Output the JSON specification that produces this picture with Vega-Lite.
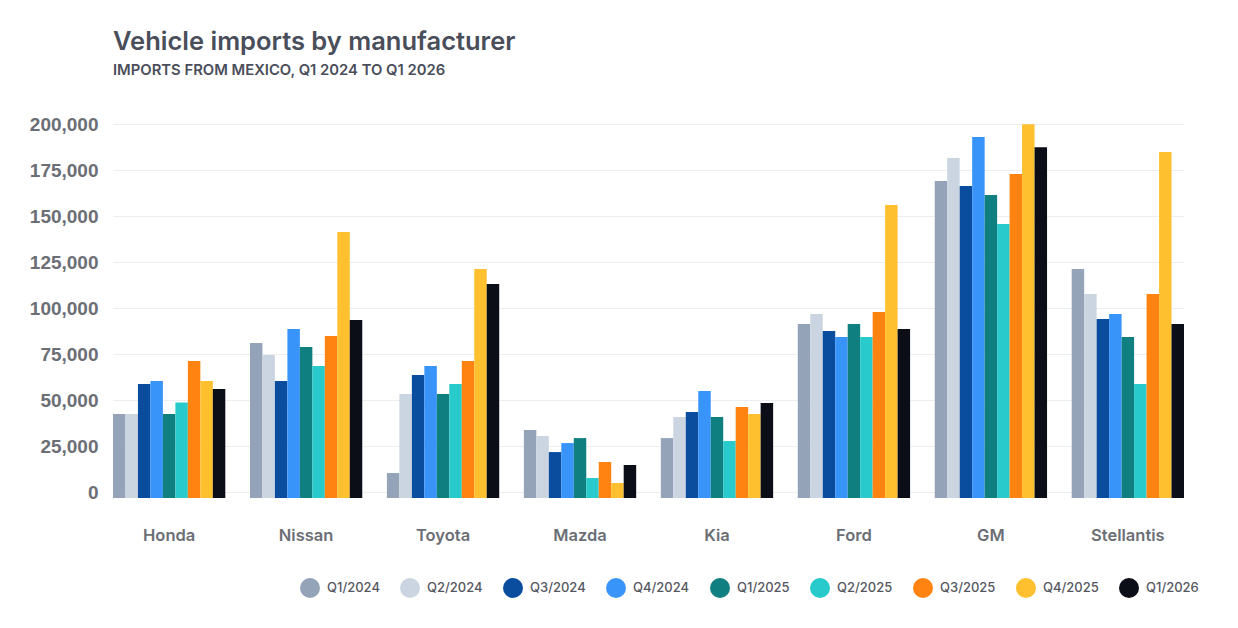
{
  "$schema": "https://vega.github.io/schema/vega-lite/v6.json",
  "description": "Grouped bar chart of vehicle imports from Mexico by manufacturer and quarter.",
  "width": 1071,
  "height": 374,
  "autosize": {"type": "none"},
  "padding": {"left": 113, "top": 124, "right": 54, "bottom": 130},
  "background": "#ffffff",
  "title": {
    "text": "Vehicle imports by manufacturer",
    "subtitle": "IMPORTS FROM MEXICO, Q1 2024 TO Q1 2026",
    "anchor": "start",
    "frame": "group",
    "font": "Inter",
    "fontSize": 25.5,
    "fontWeight": 600,
    "color": "#4a4e5a",
    "subtitleFont": "Inter",
    "subtitleFontSize": 14.8,
    "subtitleFontWeight": 600,
    "subtitleColor": "#4a4e5a",
    "subtitlePadding": 8,
    "offset": 37
  },
  "data": {
    "values": [
      {"maker": "Honda", "quarter": "Q1/2024", "imports": 42400},
      {"maker": "Honda", "quarter": "Q2/2024", "imports": 42400},
      {"maker": "Honda", "quarter": "Q3/2024", "imports": 58700},
      {"maker": "Honda", "quarter": "Q4/2024", "imports": 60300},
      {"maker": "Honda", "quarter": "Q1/2025", "imports": 42400},
      {"maker": "Honda", "quarter": "Q2/2025", "imports": 48700},
      {"maker": "Honda", "quarter": "Q3/2025", "imports": 71200},
      {"maker": "Honda", "quarter": "Q4/2025", "imports": 60300},
      {"maker": "Honda", "quarter": "Q1/2026", "imports": 56000},
      {"maker": "Nissan", "quarter": "Q1/2024", "imports": 81000},
      {"maker": "Nissan", "quarter": "Q2/2024", "imports": 74500},
      {"maker": "Nissan", "quarter": "Q3/2024", "imports": 60300},
      {"maker": "Nissan", "quarter": "Q4/2024", "imports": 88600},
      {"maker": "Nissan", "quarter": "Q1/2025", "imports": 78800},
      {"maker": "Nissan", "quarter": "Q2/2025", "imports": 68500},
      {"maker": "Nissan", "quarter": "Q3/2025", "imports": 84800},
      {"maker": "Nissan", "quarter": "Q4/2025", "imports": 141300},
      {"maker": "Nissan", "quarter": "Q1/2026", "imports": 93500},
      {"maker": "Toyota", "quarter": "Q1/2024", "imports": 10300},
      {"maker": "Toyota", "quarter": "Q2/2024", "imports": 53300},
      {"maker": "Toyota", "quarter": "Q3/2024", "imports": 63600},
      {"maker": "Toyota", "quarter": "Q4/2024", "imports": 68500},
      {"maker": "Toyota", "quarter": "Q1/2025", "imports": 53300},
      {"maker": "Toyota", "quarter": "Q2/2025", "imports": 58700},
      {"maker": "Toyota", "quarter": "Q3/2025", "imports": 71200},
      {"maker": "Toyota", "quarter": "Q4/2025", "imports": 121200},
      {"maker": "Toyota", "quarter": "Q1/2026", "imports": 113000},
      {"maker": "Mazda", "quarter": "Q1/2024", "imports": 33700},
      {"maker": "Mazda", "quarter": "Q2/2024", "imports": 30400},
      {"maker": "Mazda", "quarter": "Q3/2024", "imports": 21700},
      {"maker": "Mazda", "quarter": "Q4/2024", "imports": 26600},
      {"maker": "Mazda", "quarter": "Q1/2025", "imports": 29300},
      {"maker": "Mazda", "quarter": "Q2/2025", "imports": 7600},
      {"maker": "Mazda", "quarter": "Q3/2025", "imports": 16300},
      {"maker": "Mazda", "quarter": "Q4/2025", "imports": 4900},
      {"maker": "Mazda", "quarter": "Q1/2026", "imports": 14700},
      {"maker": "Kia", "quarter": "Q1/2024", "imports": 29300},
      {"maker": "Kia", "quarter": "Q2/2024", "imports": 40800},
      {"maker": "Kia", "quarter": "Q3/2024", "imports": 43500},
      {"maker": "Kia", "quarter": "Q4/2024", "imports": 54900},
      {"maker": "Kia", "quarter": "Q1/2025", "imports": 40800},
      {"maker": "Kia", "quarter": "Q2/2025", "imports": 27700},
      {"maker": "Kia", "quarter": "Q3/2025", "imports": 46200},
      {"maker": "Kia", "quarter": "Q4/2025", "imports": 42400},
      {"maker": "Kia", "quarter": "Q1/2026", "imports": 48400},
      {"maker": "Ford", "quarter": "Q1/2024", "imports": 91300},
      {"maker": "Ford", "quarter": "Q2/2024", "imports": 96700},
      {"maker": "Ford", "quarter": "Q3/2024", "imports": 87500},
      {"maker": "Ford", "quarter": "Q4/2024", "imports": 84200},
      {"maker": "Ford", "quarter": "Q1/2025", "imports": 91300},
      {"maker": "Ford", "quarter": "Q2/2025", "imports": 84200},
      {"maker": "Ford", "quarter": "Q3/2025", "imports": 97800},
      {"maker": "Ford", "quarter": "Q4/2025", "imports": 156000},
      {"maker": "Ford", "quarter": "Q1/2026", "imports": 88600},
      {"maker": "GM", "quarter": "Q1/2024", "imports": 169000},
      {"maker": "GM", "quarter": "Q2/2024", "imports": 181500},
      {"maker": "GM", "quarter": "Q3/2024", "imports": 166300},
      {"maker": "GM", "quarter": "Q4/2024", "imports": 192900},
      {"maker": "GM", "quarter": "Q1/2025", "imports": 161400},
      {"maker": "GM", "quarter": "Q2/2025", "imports": 145700},
      {"maker": "GM", "quarter": "Q3/2025", "imports": 172800},
      {"maker": "GM", "quarter": "Q4/2025", "imports": 199800},
      {"maker": "GM", "quarter": "Q1/2026", "imports": 187300},
      {"maker": "Stellantis", "quarter": "Q1/2024", "imports": 121200},
      {"maker": "Stellantis", "quarter": "Q2/2024", "imports": 107600},
      {"maker": "Stellantis", "quarter": "Q3/2024", "imports": 94000},
      {"maker": "Stellantis", "quarter": "Q4/2024", "imports": 96700},
      {"maker": "Stellantis", "quarter": "Q1/2025", "imports": 84200},
      {"maker": "Stellantis", "quarter": "Q2/2025", "imports": 58700},
      {"maker": "Stellantis", "quarter": "Q3/2025", "imports": 107600},
      {"maker": "Stellantis", "quarter": "Q4/2025", "imports": 184800},
      {"maker": "Stellantis", "quarter": "Q1/2026", "imports": 91300}
    ]
  },
  "mark": {"type": "bar", "cornerRadius": 0},
  "encoding": {
    "x": {
      "field": "maker",
      "type": "nominal",
      "sort": ["Honda", "Nissan", "Toyota", "Mazda", "Kia", "Ford", "GM", "Stellantis"],
      "scale": {"paddingInner": 0.18, "paddingOuter": 0},
      "axis": {
        "title": null,
        "labelAngle": 0,
        "domain": false,
        "ticks": false,
        "labelPadding": 29,
        "labelFont": "Inter",
        "labelFontSize": 16.5,
        "labelFontWeight": 600,
        "labelColor": "#6b6e75"
      }
    },
    "xOffset": {
      "field": "quarter",
      "type": "nominal",
      "sort": ["Q1/2024", "Q2/2024", "Q3/2024", "Q4/2024", "Q1/2025", "Q2/2025", "Q3/2025", "Q4/2025", "Q1/2026"],
      "scale": {"paddingInner": 0, "paddingOuter": 0}
    },
    "y": {
      "field": "imports",
      "type": "quantitative",
      "scale": {"domain": [-3260, 200000], "nice": false, "zero": false},
      "axis": {
        "title": null,
        "values": [0, 25000, 50000, 75000, 100000, 125000, 150000, 175000, 200000],
        "format": ",.0f",
        "domain": false,
        "ticks": false,
        "labelPadding": 15,
        "labelFont": "Liberation Sans",
        "labelFontSize": 19,
        "labelFontWeight": "bold",
        "labelColor": "#6b6e75",
        "gridColor": "#eceef1",
        "gridWidth": 1
      }
    },
    "y2": {"datum": -3260},
    "color": {
      "field": "quarter",
      "type": "nominal",
      "sort": ["Q1/2024", "Q2/2024", "Q3/2024", "Q4/2024", "Q1/2025", "Q2/2025", "Q3/2025", "Q4/2025", "Q1/2026"],
      "scale": {
        "domain": ["Q1/2024", "Q2/2024", "Q3/2024", "Q4/2024", "Q1/2025", "Q2/2025", "Q3/2025", "Q4/2025", "Q1/2026"],
        "range": ["#94a3b8", "#cbd5e1", "#0a4d9e", "#3994fa", "#107f80", "#29cacc", "#ff8311", "#fec02f", "#0b0d17"]
      },
      "legend": {
        "title": null,
        "orient": "none",
        "direction": "horizontal",
        "legendX": 187,
        "legendY": 454,
        "symbolType": "circle",
        "symbolSize": 400,
        "symbolStrokeWidth": 0,
        "symbolOpacity": 1,
        "labelOffset": 7,
        "columnPadding": 20,
        "labelFont": "Inter",
        "labelFontSize": 13,
        "labelFontWeight": 500,
        "labelColor": "#55575f"
      }
    }
  },
  "config": {
    "view": {"stroke": null},
    "legend": {"symbolLimit": 0}
  }
}
